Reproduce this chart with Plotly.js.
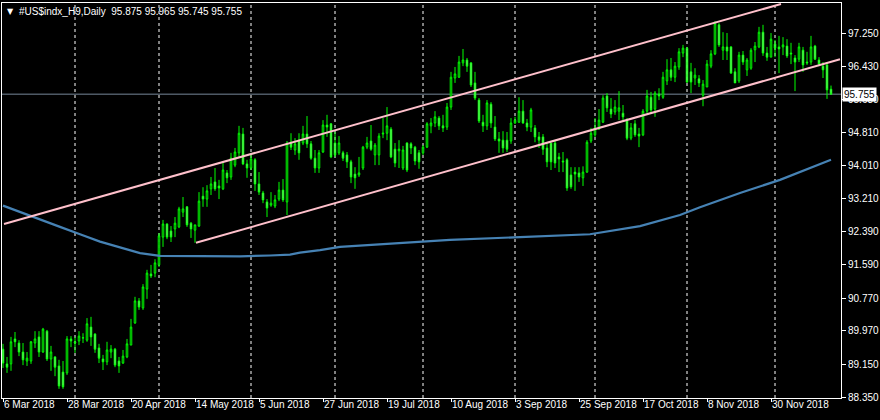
<!DOCTYPE html>
<html><head><meta charset="utf-8">
<script src="https://cdn.plot.ly/plotly-3.0.1.min.js"></script>
<style>html,body{margin:0;padding:0;background:#000;}#chart{width:880px;height:420px;}</style>
</head><body><div id="chart"></div>
<script>
// ===== data (daily bars of #US$indx_H9, bar index 0 = 6 Mar 2018) =====
const openP = [89.52,89.16,89.16,89.77,89.67,89.45,89.23,89.23,89.67,89.82,89.45,89.96,89.28,89.33,89.11,88.96,88.94,89.77,89.70,89.72,89.79,89.74,90.06,89.89,89.55,89.28,89.21,89.45,89.52,89.23,89.18,89.33,89.62,90.16,90.70,90.53,90.99,91.36,91.38,91.58,92.26,92.58,92.41,92.46,92.51,92.87,93.00,92.60,92.43,92.53,93.26,93.19,93.44,93.61,93.51,93.44,93.83,93.73,94.02,94.32,94.78,94.05,93.95,94.15,93.56,93.34,93.12,93.04,93.02,93.19,93.41,93.12,94.58,94.39,94.63,94.56,94.78,94.54,94.19,93.95,94.34,95.00,95.03,94.56,94.32,94.32,94.27,94.10,93.80,93.78,93.95,94.46,94.61,94.27,94.27,94.78,94.80,94.90,94.41,94.37,93.95,94.56,94.54,94.46,94.32,94.32,94.46,94.98,95.05,95.17,94.98,94.95,95.44,96.15,96.17,96.52,96.59,96.52,96.03,95.61,95.07,94.98,95.51,94.95,94.66,94.63,94.63,94.61,95.05,95.07,95.34,95.05,94.95,94.93,94.71,94.71,94.44,94.56,94.56,94.22,94.12,94.15,93.78,93.85,93.83,93.71,93.85,94.61,94.76,94.90,95.07,95.71,95.39,95.32,95.34,95.29,95.10,94.68,95.03,94.78,94.76,95.34,95.68,95.39,95.76,95.68,96.08,96.35,96.17,96.42,96.76,96.88,96.30,96.15,96.13,95.73,95.93,96.44,96.74,97.45,96.83,96.91,96.91,96.30,96.08,96.71,96.35,96.39,96.84,96.91,97.27,96.76,96.66,96.98,96.91,96.91,96.93,96.76,96.64,96.61,96.83,96.54,96.54,96.93,96.59,96.44,96.47,95.875];
const highP = [89.65,89.33,89.82,89.94,89.74,89.67,89.45,89.72,89.96,89.96,90.04,89.99,89.60,89.35,89.26,89.23,89.84,89.84,89.82,89.96,89.91,90.28,90.31,89.91,89.65,89.38,89.70,89.62,89.55,89.33,89.50,89.77,90.26,90.80,90.77,91.11,91.46,91.58,91.72,92.36,92.68,92.60,92.53,92.75,93.00,93.24,93.02,92.63,92.56,93.36,93.48,93.53,93.73,93.95,93.66,94.10,93.90,94.32,94.44,94.98,94.93,94.15,94.32,94.19,93.85,93.39,93.19,93.36,93.29,93.61,93.68,94.61,94.80,94.68,94.80,94.98,95.22,94.61,94.39,94.39,95.12,95.25,95.05,94.83,94.73,94.37,94.34,94.15,93.97,94.22,94.49,94.71,95.00,94.56,94.80,95.17,95.44,94.95,94.56,94.63,94.49,94.58,94.58,94.49,94.39,94.51,95.07,95.17,95.34,95.22,95.25,95.54,96.30,96.42,96.69,96.86,96.64,96.54,96.30,95.66,95.25,95.61,95.56,95.22,94.83,94.85,94.83,95.17,95.20,95.68,95.61,95.15,95.42,95.00,94.83,94.78,94.56,94.56,94.61,94.32,94.34,94.19,93.97,93.97,93.97,93.99,94.63,94.93,95.17,95.39,95.73,95.78,95.66,95.61,95.83,95.49,95.17,95.05,95.12,94.93,95.39,95.86,95.81,95.83,95.90,96.30,96.61,96.64,96.54,96.88,96.96,96.91,96.52,96.39,96.22,96.10,96.59,96.83,97.54,97.49,97.27,97.25,96.93,96.39,96.79,96.81,96.64,96.88,97.03,97.40,97.45,96.91,97.25,97.08,97.18,97.15,97.10,97.01,96.71,97.01,96.91,96.79,97.18,96.96,96.66,96.54,96.52,95.965];
const lowP = [89.06,88.94,88.99,89.57,89.35,89.13,89.11,89.16,89.55,89.33,89.43,89.23,88.99,88.86,88.55,88.55,88.89,89.57,89.43,89.62,89.67,89.70,89.60,89.43,89.18,89.01,89.13,89.30,89.08,88.94,89.16,89.30,89.62,90.14,90.48,90.48,90.75,91.26,91.28,91.53,92.02,92.21,92.14,92.26,92.48,92.75,92.51,92.24,92.12,92.51,93.00,93.00,93.29,93.39,93.19,93.41,93.58,93.66,93.97,94.22,94.02,93.71,93.90,93.39,93.29,93.09,92.75,93.00,92.97,93.14,93.12,92.80,94.39,94.27,94.15,94.51,94.44,94.15,93.83,93.83,94.32,94.71,94.19,94.22,94.27,94.12,93.95,93.58,93.44,93.73,93.90,94.41,94.37,94.02,94.02,94.68,94.63,94.19,93.97,93.95,93.90,93.85,94.29,94.02,93.93,94.27,94.44,94.80,94.95,94.88,94.83,94.88,95.37,96.03,96.15,96.44,96.30,95.93,95.61,95.05,94.83,94.88,94.93,94.61,94.32,94.32,94.34,94.54,95.03,95.05,95.03,94.85,94.83,94.58,94.44,94.27,93.97,93.90,93.95,93.85,93.85,93.39,93.44,93.39,93.61,93.51,93.83,94.56,94.71,94.88,95.05,95.32,95.17,95.25,95.12,95.12,94.63,94.63,94.71,94.46,94.73,95.29,95.29,95.20,95.61,95.64,95.98,96.08,96.05,96.35,96.66,96.03,95.78,95.98,95.93,95.46,95.93,96.39,96.71,96.91,96.59,96.59,96.25,96.03,96.03,96.47,96.20,96.35,96.54,96.88,96.69,96.57,96.66,96.66,96.27,96.71,96.64,96.49,95.83,96.54,96.30,96.47,96.47,96.59,96.44,96.15,95.64,95.745];
const closeP = [89.18,89.08,89.70,89.70,89.45,89.26,89.30,89.70,89.77,89.45,90.01,89.28,89.45,89.08,88.62,88.60,89.77,89.72,89.67,89.84,89.80,90.14,89.82,89.52,89.30,89.21,89.50,89.52,89.13,89.11,89.35,89.65,90.06,90.70,90.55,91.04,91.38,91.31,91.63,92.29,92.58,92.26,92.26,92.60,92.95,92.95,92.56,92.46,92.56,93.14,93.19,93.39,93.56,93.44,93.46,93.90,93.71,94.19,94.34,94.80,94.05,93.95,94.17,93.56,93.36,93.17,92.97,93.09,93.17,93.41,93.17,94.56,94.46,94.54,94.32,94.78,94.54,94.19,93.95,94.32,95.00,94.95,94.22,94.27,94.56,94.19,94.10,93.73,93.71,93.83,94.46,94.56,94.41,94.51,94.73,94.80,94.98,94.22,94.07,94.41,94.39,93.90,94.44,94.12,94.10,94.46,95.03,95.05,95.20,94.98,94.93,95.44,96.17,96.25,96.54,96.59,96.44,95.98,95.66,95.10,94.98,95.54,95.05,94.66,94.61,94.44,94.41,95.05,95.12,95.34,95.05,94.95,95.37,94.71,94.63,94.41,94.10,94.10,94.07,94.17,94.10,93.46,93.49,93.80,93.73,93.85,94.58,94.80,94.93,95.12,95.66,95.42,95.27,95.44,95.42,95.20,94.68,94.93,94.76,94.73,95.34,95.71,95.37,95.78,95.71,96.17,96.35,96.17,96.44,96.79,96.88,96.05,96.05,96.22,96.03,96.00,96.49,96.74,97.49,96.96,96.91,96.81,96.27,96.03,96.71,96.54,96.59,96.83,96.93,97.27,96.76,96.66,97.10,96.88,96.86,96.96,96.69,96.74,96.54,96.91,96.47,96.52,96.91,96.61,96.49,96.35,95.86,95.755];

// moving average (steel blue) read at sample bars
const maBar   = [0,4.25,9.25,14.25,19.25,24.25,29.25,34.25,39.25,59.25,66.75,71.75,74.25,79.25,84.25,99.25,111.75,129.25,146.75,159.25,169.25,174.25,184.25,194.25,201.75,207];
const maValue = [93.03,92.88,92.69,92.51,92.33,92.15,92.01,91.87,91.80,91.79,91.81,91.83,91.88,91.94,92.02,92.11,92.19,92.26,92.33,92.53,92.80,92.99,93.34,93.66,93.95,94.15];

// channel trend lines (anchor points: bar, price)
const upperBar = [0.25,194.5],  upperPrice = [92.58,97.96];
const lowerBar = [48.25,209.25], lowerPrice = [92.12,96.61];

// x-axis date labels and their bars, month separators
const tickBars   = [0,16,32,48,64,80,96,112,128,144,160,176,192];
const tickLabels = ["6 Mar 2018","28 Mar 2018","20 Apr 2018","14 May 2018","5 Jun 2018","27 Jun 2018","19 Jul 2018","10 Aug 2018","3 Sep 2018","25 Sep 2018","17 Oct 2018","8 Nov 2018","30 Nov 2018"];
const monthStarts = [18,39,62,83,105,128,148,171,193];

// price scale
const priceTicks = [97.25,96.43,95.63,94.81,94.01,93.21,92.39,91.59,90.77,89.97,89.15,88.35];
const bidPrice = 95.755;
const header = "#US$indx_H9,Daily\u00a0\u00a095.875 95.965 95.745 95.755";

// ===== chart =====
const bars = openP.map((_, i) => i);
const traces = [
  {type:'scatter', mode:'lines', x:maBar, y:maValue, line:{color:'#4682B4', width:2.2}, hoverinfo:'skip'},
  {type:'candlestick', x:bars, open:openP, high:highP, low:lowP, close:closeP,
   increasing:{line:{color:'#00FF00', width:1}, fillcolor:'#000000'},
   decreasing:{line:{color:'#00FF00', width:1}, fillcolor:'#FFFFFF'},
   whiskerwidth:0, hoverinfo:'skip'},
  {type:'scatter', mode:'lines', x:upperBar, y:upperPrice, line:{color:'#FFC0CB', width:2}, hoverinfo:'skip'},
  {type:'scatter', mode:'lines', x:lowerBar, y:lowerPrice, line:{color:'#FFC0CB', width:2}, hoverinfo:'skip'}
];

const shapes = monthStarts.map(b => ({type:'line', xref:'x', yref:'paper', x0:b, x1:b, y0:0, y1:1,
  line:{color:'#FFFFFF', width:1, dash:'3px,3px'}, layer:'below'}));
shapes.push({type:'line', xref:'paper', yref:'y', x0:0, x1:1, y0:bidPrice, y1:bidPrice,
  line:{color:'#778899', width:1}, layer:'below'});

const font = {family:'"Liberation Sans", Arial, sans-serif', size:10, color:'#FFFFFF'};
const layout = {
  width:880, height:420,
  paper_bgcolor:'#000000', plot_bgcolor:'#000000',
  margin:{l:2, r:39, t:3, b:22, pad:0},
  showlegend:false, font:font, boxgap:0.45,
  xaxis:{range:[-0.25,209.5], type:'linear', rangeslider:{visible:false},
    tickvals:tickBars, ticktext:tickLabels, ticklabelposition:'outside right', ticklabelstandoff:-3,
    tickangle:0, ticks:'outside', ticklen:3, tickcolor:'#FFFFFF', tickfont:font,
    showgrid:false, zeroline:false, showline:true, mirror:true, linecolor:'#FFFFFF', linewidth:1, fixedrange:true},
  yaxis:{range:[88.326,97.984], side:'right',
    tickvals:priceTicks, ticktext:priceTicks.map(v => v.toFixed(3)),
    ticks:'outside', ticklen:4, tickcolor:'#FFFFFF', tickfont:font,
    showgrid:false, zeroline:false, showline:true, mirror:true, linecolor:'#FFFFFF', linewidth:1, fixedrange:true},
  shapes:shapes,
  annotations:[
    {xref:'paper', yref:'paper', x:0, y:1, xanchor:'left', yanchor:'top', xshift:3, yshift:-2,
     text:'\u25BC', showarrow:false, font:{family:'DejaVu Sans', size:8, color:'#FFFFFF'}},
    {xref:'paper', yref:'paper', x:0, y:1, xanchor:'left', yanchor:'top', xshift:15, yshift:-1,
     text:header, showarrow:false, font:font},
    {xref:'paper', yref:'y', x:1, y:bidPrice, xanchor:'left', yanchor:'middle', xshift:1,
     text:bidPrice.toFixed(3), showarrow:false, bgcolor:'#FFFFFF', borderpad:1,
     font:{family:font.family, size:10, color:'#000000'}}
  ]
};
Plotly.newPlot('chart', traces, layout, {displayModeBar:false, staticPlot:true});
</script></body></html>
